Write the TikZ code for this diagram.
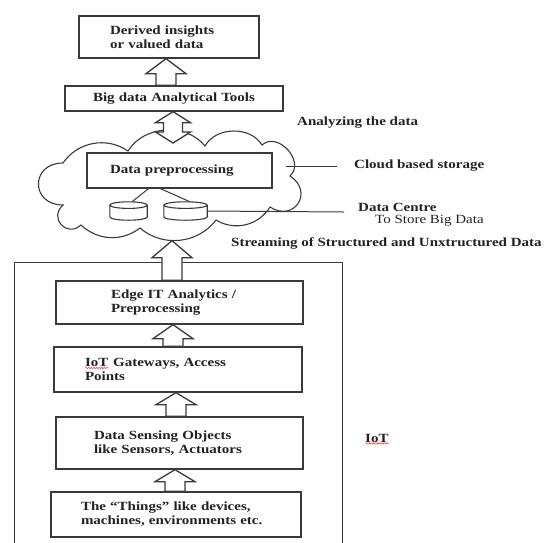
\documentclass[tikz,border=0pt]{standalone}
\usepackage{fontspec}
\setmainfont{Liberation Serif}[FakeStretch=1.2]
\usetikzlibrary{calc,decorations.pathmorphing}
\definecolor{linec}{HTML}{3A3A3A}
\definecolor{txtc}{HTML}{222222}
\newlength\spw
\newcommand\spellerr[1]{\settowidth\spw{#1}\leavevmode\rlap{#1}\raisebox{-2.4pt}[0pt][0pt]{\tikz[x=1pt,y=1pt]\draw[red!75, line width=0.6pt, decoration={snake, amplitude=0.7pt, segment length=2.6pt}, decorate] (0,0) -- (\spw,0);}}
\newcommand\uparr[4]{% lower node, upper node, centre x, head length
  \draw[arrowline] let \p1=(#1.north), \p2=(#2.south) in
    (#3pt-10pt,\y1) -- (#3pt-10pt,\y2-#4pt) -- (#3pt-20pt,\y2-#4pt) -- (#3pt,\y2)
    -- (#3pt+20pt,\y2-#4pt) -- (#3pt+10pt,\y2-#4pt) -- (#3pt+10pt,\y1) -- cycle;}
\newcommand\drawcyl[1]{%
  \draw[cylline] let \p1=(#1.north west), \p2=(#1.south east), \n1={(\x2-\x1)/2} in
    (\x1,\y1-3.3pt) -- (\x1,\y2+3.3pt) arc[start angle=180,end angle=360,x radius=\n1,y radius=3.3pt]
    -- (\x2,\y1-3.3pt)
    (\x1/2+\x2/2,\y1-3.3pt) ellipse[x radius=\n1,y radius=3.3pt];}
\tikzset{
  box/.style={draw=linec, line width=1.3pt, fill=white, inner ysep=0pt, align=left,
    font=\fontsize{12.5}{14}\selectfont\bfseries\color{txtc}},
  arrowline/.style={draw=linec, line width=1.3pt, fill=white, line join=miter},
  cylline/.style={draw=linec, line width=1.1pt},
  cloudline/.style={draw=linec, line width=1.1pt},
  thin/.style={draw=linec, line width=1pt},
  lbl/.style={anchor=west, inner sep=0pt, font=\fontsize{12.5}{14}\selectfont\bfseries\color{txtc}},
  lblr/.style={anchor=west, inner sep=0pt, font=\fontsize{12.5}{14}\selectfont\color{txtc}},
  cylbox/.style={draw=none, inner sep=0pt},
}
\begin{document}
\begin{tikzpicture}[x=1pt,y=-1pt]
\path[use as bounding box] (0,0) rectangle (548,542);
\clip (0,0) rectangle (548,542);

% cloud (named area + drawn outline)
\node[inner sep=0pt, minimum width=266pt, minimum height=107pt] (cloud) at (170,187) {};
\draw[cloudline] (63,163) to[bend left=45] (128,151) to[bend left=55] (205,146)
  to[bend left=60] (262,145) to[bend left=90,looseness=1.3] (290,176)
  to[bend left=90,looseness=2] (270,207) to[bend left=45] (216,220)
  to[bend left=47] (140,228) to[bend left=40] (81,225)
  to[bend left=90,looseness=1.85] (63,205) to[bend left=90,looseness=2] (63,163) -- cycle;

% boxes
\node[box, minimum width=180pt, minimum height=42pt, inner xsep=31pt, text width=118pt] (derived) at (169,37)
  {Derived insights\\or valued data};
\node[box, minimum width=218pt, minimum height=25pt, inner xsep=0pt, text width=218pt, align=center] (bigdata) at (174,98.5)
  {Big data Analytical Tools};
\node[box, minimum width=185pt, minimum height=35pt, inner xsep=23pt, text width=139pt] (prep) at (179.5,170.5)
  {Data preprocessing};
\node[box, fill=none, minimum width=328pt, minimum height=320pt, anchor=north west] (iot) at (14,262) {};
\node[box, minimum width=247pt, minimum height=43pt, inner xsep=55pt, text width=137pt] (edge) at (179.5,302.5)
  {Edge IT Analytics /\\Preprocessing};
\node[box, minimum width=248pt, minimum height=45pt, inner xsep=31pt, text width=186pt] (gw) at (178,369.5)
  {\spellerr{IoT} Gateways, Access\\Points};
\node[box, minimum width=247pt, minimum height=52pt, inner xsep=38pt, text width=171pt] (sens) at (179.5,443)
  {Data Sensing Objects\\like Sensors, Actuators};
\node[box, minimum width=250pt, minimum height=45pt, inner xsep=30pt, text width=190pt] (things) at (176,514.5)
  {The “Things” like devices,\\machines, environments etc.};

% cylinders
\node[cylbox, minimum width=37pt, minimum height=18pt] (cyl1) at (128.5,211) {};
\node[cylbox, minimum width=43pt, minimum height=18pt] (cyl2) at (185.5,211) {};
\drawcyl{cyl1}
\drawcyl{cyl2}
\draw[thin] ($(prep.south)+(-31,0)$) -- ($(cyl1.north)+(3.5,0)$);
\draw[thin] ($(prep.south)+(-19,0)$) -- ($(cyl2.north)+(4.5,0)$);

% arrows
\uparr{bigdata}{derived}{166}{15}
\uparr{edge}{cloud}{172}{17}
\uparr{gw}{edge}{173}{14}
\uparr{sens}{gw}{176}{12}
\uparr{things}{sens}{175}{12}
\coordinate (dtip) at (173,143);
\draw[arrowline] let \p1=(bigdata.south), \p2=(dtip) in
  (173pt,\y1) -- (190.5pt,\y1-11pt) -- (182.5pt,\y1-11pt) -- (182.5pt,\y2+11pt) -- (190.5pt,\y2+11pt)
  -- (173pt,\y2) -- (155.5pt,\y2+11pt) -- (163.5pt,\y2+11pt) -- (163.5pt,\y1-11pt) -- (155.5pt,\y1-11pt) -- cycle;

% right-hand labels
\node[lbl] (analyze) at (297,123) {Analyzing the data};
\coordinate (cbsa) at (286,166);
\coordinate (cbsb) at (337,166);
\draw[thin] (cbsa) -- (cbsb);
\node[lbl] (cbs) at (354,166) {Cloud based storage};
\coordinate (dcend) at (344,212);
\draw[thin] (cyl2.east) -- (dcend);
\node[lbl] (dc) at (358,207) {Data Centre};
\node[lblr] (dcs) at (375,221) {To Store Big Data};
\node[lbl] (stream) at (231,243) {Streaming of Structured and Unxtructured Data};
\node[lbl] (iotlbl) at (365,438) {\spellerr{IoT}};
\end{tikzpicture}
\end{document}
